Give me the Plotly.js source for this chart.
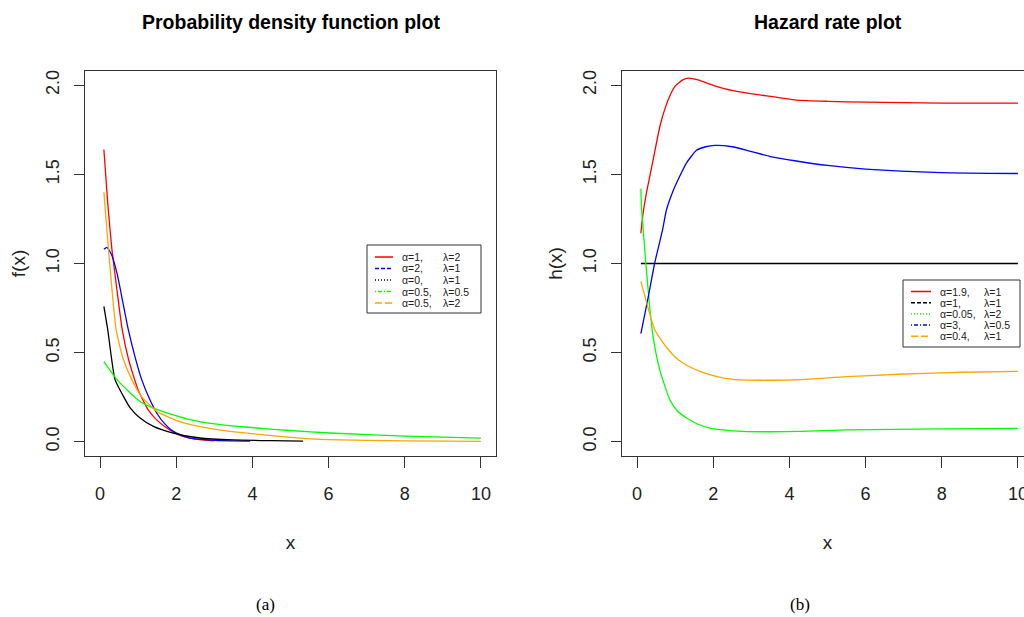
<!DOCTYPE html>
<html>
<head>
<meta charset="utf-8">
<script src="https://cdn.plot.ly/plotly-3.0.1.min.js"></script>
<style>
html,body{margin:0;padding:0;overflow:hidden;background:#fff;}
#chart{width:1040px;height:617px;}
</style>
</head>
<body>
<div id="chart"></div>
<script>
// ---------- Data: (a) probability density function ----------
const pdfRedX    = [0.1,0.2,0.31,0.45,0.58,0.75,1.0,1.26,1.5,1.8,2.1,2.5,3.0];
const pdfRedY    = [1.64,1.34,1.08,0.84,0.63,0.46,0.29,0.18,0.12,0.07,0.035,0.015,0.005];
const pdfBlueX   = [0.1,0.18,0.3,0.45,0.6,0.74,0.9,1.09,1.3,1.49,1.7,1.92,2.36,3.0,3.94];
const pdfBlueY   = [1.08,1.09,1.05,0.94,0.78,0.63,0.49,0.35,0.24,0.16,0.10,0.058,0.02,0.008,0.004];
const pdfBlackX  = [0.1,0.2,0.39,0.6,0.79,1.05,1.4,1.92,2.62,3.5,4.5,5.33];
const pdfBlackY  = [0.76,0.63,0.35,0.26,0.19,0.133,0.086,0.049,0.021,0.01,0.006,0.004];
const pdfGreenX  = [0.1,0.48,1.05,1.5,2.36,3.0,4.11,5.0,6.04,8.0,10];
const pdfGreenY  = [0.45,0.34,0.226,0.18,0.124,0.10,0.077,0.063,0.049,0.032,0.02];
const pdfOrangeX = [0.1,0.22,0.42,0.6,0.83,1.1,1.49,2.0,2.5,3.41,4.0,5.0,6.0,8.0,10];
const pdfOrangeY = [1.40,1.08,0.63,0.47,0.35,0.25,0.17,0.12,0.09,0.058,0.045,0.025,0.012,0.005,0.002];

// ---------- Data: (b) hazard rate ----------
const hzRedX    = [0.1,0.15,0.25,0.42,0.6,0.75,0.88,1.0,1.2,1.34,1.6,2.0,2.52,3.4,4.18,5,6,8,10];
const hzRedY    = [1.17,1.27,1.40,1.58,1.77,1.88,1.95,1.995,2.03,2.04,2.03,2.0,1.97,1.94,1.917,1.91,1.905,1.90,1.90];
const hzBlackX  = [0.1,10];
const hzBlackY  = [1,1];
const hzGreenX  = [0.1,0.12,0.16,0.23,0.33,0.42,0.6,0.86,1.05,1.3,1.6,1.91,2.3,2.78,3.5,4.27,5.5,8,10];
const hzGreenY  = [1.42,1.3,1.19,1.0,0.76,0.59,0.40,0.236,0.175,0.133,0.098,0.077,0.065,0.058,0.056,0.058,0.067,0.072,0.075];
const hzBlueX   = [0.1,0.3,0.46,0.67,0.77,0.95,1.12,1.3,1.56,1.8,2.04,2.5,2.96,3.5,4.18,5,6,8,10];
const hzBlueY   = [0.607,0.82,1.0,1.19,1.30,1.41,1.49,1.565,1.635,1.655,1.663,1.655,1.63,1.60,1.575,1.55,1.53,1.51,1.505];
const hzOrangeX = [0.1,0.33,0.46,0.77,1.0,1.21,1.65,2.08,2.52,3.4,4.27,5.5,7,8.5,10];
const hzOrangeY = [0.90,0.72,0.63,0.53,0.475,0.44,0.395,0.367,0.35,0.345,0.348,0.365,0.38,0.39,0.395];

// ---------- Labels ----------
const xTicks = [0,2,4,6,8,10];
const yTicks = [0,0.5,1,1.5,2];
const yTickText = ['0.0','0.5','1.0','1.5','2.0'];
const pdfAlpha  = ['1','2','0','0.5','0.5'];
const pdfLambda = ['2','1','1','0.5','2'];
const hzAlpha   = ['1.9','1','0.05','3','0.4'];
const hzLambda  = ['1','1','2','0.5','1'];
const titleA = 'Probability density function plot';
const titleB = 'Hazard rate plot';

// ---------- Styles ----------
const W = 1040, H = 617;
const px = v => v / W;
const py = v => 1 - v / H;
const C = {red:'#ff0000', blue:'#0000ff', black:'#000000', green:'#00ff00', orange:'#ffa500'};
const D = {solid:'solid', dash:'4px,2px', dot:'1px,2px', dotdash:'1px,2px,4px,2px', longdash:'7px,3px'};
const LW = 1.3;

function tr(x, y, color, xa, ya) {
  return {x:x, y:y, type:'scatter', mode:'lines', xaxis:xa, yaxis:ya,
          line:{color:color, width:LW, shape:'spline', smoothing:0.5}, showlegend:false, hoverinfo:'skip'};
}

const data = [
  tr(pdfRedX, pdfRedY, C.red, 'x', 'y'),
  tr(pdfBlueX, pdfBlueY, C.blue, 'x', 'y'),
  tr(pdfBlackX, pdfBlackY, C.black, 'x', 'y'),
  tr(pdfGreenX, pdfGreenY, C.green, 'x', 'y'),
  tr(pdfOrangeX, pdfOrangeY, C.orange, 'x', 'y'),
  tr(hzRedX, hzRedY, C.red, 'x2', 'y2'),
  tr(hzBlackX, hzBlackY, C.black, 'x2', 'y2'),
  tr(hzGreenX, hzGreenY, C.green, 'x2', 'y2'),
  tr(hzBlueX, hzBlueY, C.blue, 'x2', 'y2'),
  tr(hzOrangeX, hzOrangeY, C.orange, 'x2', 'y2')
];

const tickFont = {family:'Liberation Sans, Arial, sans-serif', size:18, color:'#222'};
const titleFont = {family:'Liberation Sans, Arial, sans-serif', size:19, color:'#222'};

function xAxis(domain, anchor) {
  return {domain:domain, anchor:anchor, range:[-0.396,10.396], tickvals:xTicks, ticktext:xTicks.map(String),
          ticks:'outside', ticklen:11, tickwidth:1, tickcolor:'#333', showline:true, mirror:true,
          linecolor:'#333', linewidth:1, showgrid:false, zeroline:false, tickfont:tickFont,
          ticklabelstandoff:10, title:{text:'x', font:titleFont, standoff:33}};
}
function yAxis(domain, anchor, label) {
  return {domain:domain, anchor:anchor, range:[-0.08,2.08], tickvals:yTicks, ticktext:yTickText,
          ticks:'outside', ticklen:10, tickwidth:1, tickcolor:'#333', showline:true, mirror:true,
          linecolor:'#333', linewidth:1, showgrid:false, zeroline:false, tickfont:tickFont, tickangle:-90,
          ticklabelstandoff:8, title:{text:label, font:titleFont, standoff:12}};
}

const shapes = [];
const annotations = [];

function legend(box, lineX0, lineX1, alphaX, lambdaX, rowY0, pitch, colors, dashes, alphas, lambdas) {
  shapes.push({type:'rect', xref:'paper', yref:'paper', x0:px(box[0]), x1:px(box[1]), y0:py(box[3]), y1:py(box[2]),
               line:{color:'#333', width:1}, fillcolor:'rgba(255,255,255,1)', layer:'above'});
  for (let i = 0; i < alphas.length; i++) {
    const yy = py(rowY0 + i * pitch);
    shapes.push({type:'line', xref:'paper', yref:'paper', x0:px(lineX0), x1:px(lineX1), y0:yy, y1:yy,
                 line:{color:colors[i], width:1.5, dash:dashes[i]}, layer:'above'});
    annotations.push({xref:'paper', yref:'paper', x:px(alphaX), y:yy, xanchor:'left', yanchor:'middle',
                      text:'α=' + alphas[i] + ',', showarrow:false,
                      font:{family:'Liberation Sans, Arial, sans-serif', size:10.5, color:'#222'}});
    annotations.push({xref:'paper', yref:'paper', x:px(lambdaX), y:yy, xanchor:'left', yanchor:'middle',
                      text:'λ=' + lambdas[i], showarrow:false,
                      font:{family:'Liberation Sans, Arial, sans-serif', size:10.5, color:'#222'}});
  }
}

legend([367,481,245,313], 375, 393, 400, 441, 257, 11.5,
       [C.red, C.blue, C.black, C.green, C.orange], [D.solid, D.dash, D.dot, D.dotdash, D.longdash], pdfAlpha, pdfLambda);
legend([903,1020,280,347], 911, 931, 938, 982, 291.5, 11.2,
       [C.red, C.black, C.green, C.blue, C.orange], [D.solid, D.dash, D.dot, D.dotdash, D.longdash], hzAlpha, hzLambda);

annotations.push({xref:'paper', yref:'paper', x:px(290.5), y:py(22), xanchor:'center', yanchor:'middle',
  text:'<b>' + titleA + '</b>', showarrow:false, font:{family:'Liberation Sans, Arial, sans-serif', size:19.5, color:'#000'}});
annotations.push({xref:'paper', yref:'paper', x:px(827.5), y:py(22), xanchor:'center', yanchor:'middle',
  text:'<b>' + titleB + '</b>', showarrow:false, font:{family:'Liberation Sans, Arial, sans-serif', size:19.5, color:'#000'}});
annotations.push({xref:'paper', yref:'paper', x:px(265), y:py(604), xanchor:'center', yanchor:'middle',
  text:'(a)', showarrow:false, font:{family:'Liberation Serif, serif', size:17, color:'#000'}});
annotations.push({xref:'paper', yref:'paper', x:px(800), y:py(604), xanchor:'center', yanchor:'middle',
  text:'(b)', showarrow:false, font:{family:'Liberation Serif, serif', size:17, color:'#000'}});

const layout = {
  width:W, height:H, margin:{l:0, r:0, t:0, b:0}, paper_bgcolor:'#fff', plot_bgcolor:'#fff',
  showlegend:false,
  xaxis:  xAxis([px(85), px(496)], 'y'),
  yaxis:  yAxis([py(456), py(71)], 'x', 'f(x)'),
  xaxis2: xAxis([px(622), px(1033)], 'y2'),
  yaxis2: yAxis([py(456), py(71)], 'x2', 'h(x)'),
  shapes:shapes, annotations:annotations
};

Plotly.newPlot('chart', data, layout, {staticPlot:true, displayModeBar:false});
</script>
</body>
</html>
